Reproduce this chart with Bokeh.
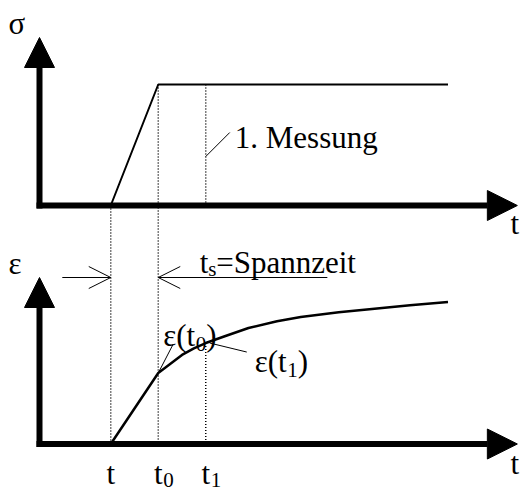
import numpy as np
from bokeh.plotting import figure
from bokeh.models import Range1d, Arrow, NormalHead, OpenHead
from bokeh.core.properties import value
from bokeh.embed import file_html
from bokeh.resources import INLINE

# ---------------- data (time in arbitrary units, values normalised) ----------------
t_load, t_0, t_1 = 1.5, 2.5, 3.5          # t, t0, t1
sigma_t = [1.5, 2.5, 8.6]
sigma_v = [0.0, 1.0, 1.0]
eps_t = [1.5, 2.5, 2.75, 3.0, 3.25, 3.5, 3.9, 4.4, 5.0, 5.5, 6.3, 7.0, 7.8, 8.6]
eps_v = [0.0, 0.50, 0.563, 0.627, 0.673, 0.711, 0.759, 0.817, 0.865, 0.895, 0.928, 0.951, 0.977, 1.0]
tick_pos = [t_load, t_0, t_1]
tick_main = ["t", "t", "t"]
tick_sub = ["", "0", "1"]

# ---------------- layout ----------------
W, H = 521, 489
PXU = 47.5                     # pixels per time unit
X_LEFT = -39 / PXU
SIG_BASE, SIG_SCALE = 284.0, 121.0
EPS_BASE, EPS_SCALE = 45.5, 142.0
FONT = value("Liberation Serif, serif")
FS, FS_SUB = 31, 21


def dx(px):
    return px / PXU


def ys(v):
    return SIG_BASE + v * SIG_SCALE


def ye(v):
    return EPS_BASE + v * EPS_SCALE


p = figure(width=W, height=H, x_range=Range1d(X_LEFT, X_LEFT + W / PXU),
           y_range=Range1d(0, H), x_axis_type=None, y_axis_type=None,
           output_backend="svg", toolbar_location=None, min_border=0,
           background_fill_color="white", border_fill_color="white")
p.outline_line_color = None
p.grid.visible = False


def txt(x, y, s, size=FS, align="left"):
    # y is the desired baseline; bokeh places the text box bottom there, so lift by the descent
    p.text(x=[x], y=[y + 0.23 * size], text=[s], text_font=FONT, text_font_size=f"{size}px",
           text_align=align, text_baseline="alphabetic", text_color="black")


# ---------------- axes with arrow heads ----------------
for base, tip in [(SIG_BASE, 452.0), (EPS_BASE, 212.0)]:
    p.add_layout(Arrow(x_start=0, y_start=base - 3, x_end=0, y_end=tip, line_width=6,
                       line_color="black",
                       end=NormalHead(size=30, fill_color="black", line_color="black", line_width=1)))
    p.add_layout(Arrow(x_start=dx(-3), y_start=base, x_end=10.06, y_end=base, line_width=6,
                       line_color="black",
                       end=NormalHead(size=30, fill_color="black", line_color="black", line_width=1)))

# ---------------- curves ----------------
p.line(sigma_t, [ys(v) for v in sigma_v], line_color="black", line_width=2)
p.line(eps_t, [ye(v) for v in eps_v], line_color="black", line_width=2.5, line_join="round")

eps_at_t1 = float(np.interp(t_1, eps_t, eps_v))
eps_at_t0 = float(np.interp(t_0, eps_t, eps_v))

# ---------------- dotted guide lines ----------------
p.segment(x0=[t_load, t_0, t_1, t_1],
          y0=[ys(0), ys(1), ys(1), ye(eps_at_t1)],
          x1=[t_load, t_0, t_1, t_1],
          y1=[ye(0), ye(0), ys(0), ye(0)],
          line_color="black", line_width=1.5, line_dash="1 2")

# ---------------- span arrows (Spannzeit) ----------------
SPAN_Y = 212.0
p.add_layout(Arrow(x_start=0.48, y_start=SPAN_Y, x_end=t_load, y_end=SPAN_Y, line_width=1,
                   line_color="black", end=OpenHead(size=22, line_width=1, line_color="black")))
p.add_layout(Arrow(x_start=6.06, y_start=SPAN_Y, x_end=t_0, y_end=SPAN_Y, line_width=1,
                   line_color="black", end=OpenHead(size=22, line_width=1, line_color="black")))
txt(t_load + dx(89), 220, "t")
txt(t_load + dx(97.6), 216, "s", size=FS_SUB)
txt(t_load + dx(105.5), 220, "=Spannzeit")

# ---------------- annotations ----------------
# 1. Messung
m_y0 = 333.0
p.segment(x0=[t_1], y0=[m_y0], x1=[t_1 + dx(24)], y1=[m_y0 + 24], line_color="black", line_width=1)
txt(t_1 + dx(29), m_y0 + 12, "1. Messung")

# eps(t0)
y_e0 = ye(eps_at_t0)
p.segment(x0=[t_0], y0=[y_e0], x1=[t_0 + dx(15)], y1=[y_e0 + 29], line_color="black", line_width=1)
x_l = t_0 + dx(5)
txt(x_l, y_e0 + 30.5, "ε(t")
txt(x_l + dx(32.5), y_e0 + 24.5, "0", size=FS_SUB)
txt(x_l + dx(43), y_e0 + 30.5, ")")

# eps(t1)
y_e1 = ye(eps_at_t1)
p.segment(x0=[t_1 + dx(4)], y0=[y_e1], x1=[t_1 + dx(41)], y1=[y_e1 - 9], line_color="black", line_width=1)
x_l = t_1 + dx(49)
txt(x_l, y_e1 - 25.5, "ε(t")
txt(x_l + dx(32.5), y_e1 - 31.5, "1", size=FS_SUB)
txt(x_l + dx(43), y_e1 - 25.5, ")")

# axis labels
txt(X_LEFT + dx(8), 459, "σ")
txt(X_LEFT + dx(8), 219, "ε")
txt(dx(471), 259, "t")
txt(dx(471), 19, "t")

# bottom tick labels
for xp, m, s in zip(tick_pos, tick_main, tick_sub):
    txt(xp, 9, m, align="center")
    if s:
        txt(xp + dx(5), 5, s, size=FS_SUB)

open("out.html", "w").write(file_html(p, INLINE))
